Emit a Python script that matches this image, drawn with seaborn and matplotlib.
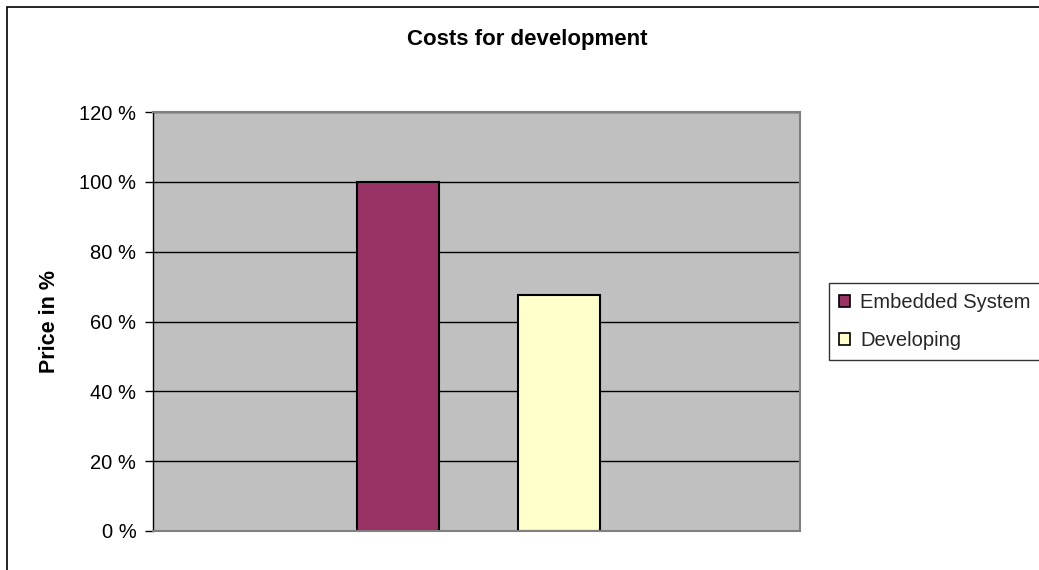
import matplotlib
matplotlib.use("Agg")
import matplotlib.pyplot as plt
from matplotlib.patches import Rectangle, Patch
import seaborn as sns
import pandas as pd

# Data
series = ["Embedded System", "Developing"]
values = [100, 67.5]
colors = ["#993366", "#FFFFCC"]
y_ticks = [0, 20, 40, 60, 80, 100, 120]
y_tick_labels = ["0 %", "20 %", "40 %", "60 %", "80 %", "100 %", "120 %"]

df = pd.DataFrame({"group": ["Costs"] * len(series), "series": series, "value": values})

sns.set_theme(style="white")
plt.rcParams["font.family"] = ["Liberation Sans", "DejaVu Sans"]

fig = plt.figure(figsize=(10.39, 5.70), dpi=100)
ax = fig.add_axes([153 / 1039, 1 - 531 / 570, 647 / 1039, 419 / 570])

sns.barplot(data=df, x="group", y="value", hue="series", palette=colors,
            width=0.5, gap=0.493, edgecolor="black", linewidth=1.5,
            saturation=1, legend=False, ax=ax)

ax.set_facecolor("#C0C0C0")
ax.set_xlim(-0.503, 0.497)
ax.set_ylim(0, 120)
ax.set_yticks(y_ticks)
ax.set_yticklabels(y_tick_labels, fontsize=14.5, color="black")
ax.set_xticks([])
ax.set_xlabel("")
ax.set_axisbelow(True)
ax.yaxis.grid(True, color="black", linewidth=1.0)
ax.xaxis.grid(False)
ax.tick_params(axis="y", direction="out", length=6, width=1, color="black",
               left=True, pad=6)

for side in ["top", "right", "bottom"]:
    ax.spines[side].set_color("#808080")
    ax.spines[side].set_linewidth(1.5)
ax.spines["left"].set_color("black")
ax.spines["left"].set_linewidth(1.0)

ax.set_ylabel("Price in %", fontsize=15.5, fontweight="bold", color="black")
ax.yaxis.set_label_coords(-0.144, 0.5)

fig.text(527 / 1039, 1 - 40 / 570, "Costs for development", ha="center", va="center",
         fontsize=16, fontweight="bold", color="black")

handles = [Patch(facecolor=c, edgecolor="black", linewidth=1.2) for c in colors]
leg = fig.legend(handles, series, loc="upper left",
                 bbox_to_anchor=(829 / 1039, 1 - 283 / 570),
                 fontsize=14.5, frameon=True, fancybox=False, shadow=False,
                 handlelength=0.55, handleheight=0.55, handletextpad=0.5,
                 labelspacing=0.95, borderpad=0.5, borderaxespad=0)
leg.get_frame().set_edgecolor("black")
leg.get_frame().set_linewidth(1.0)
leg.get_frame().set_facecolor("white")

# Outer chart frame
fig.patches.append(Rectangle((7 / 1039, -0.1), 1.2, 1 - 7 / 570 + 0.1,
                             transform=fig.transFigure, fill=False,
                             edgecolor="black", linewidth=1.2, clip_on=False))

fig.savefig("out.png", dpi=100)
